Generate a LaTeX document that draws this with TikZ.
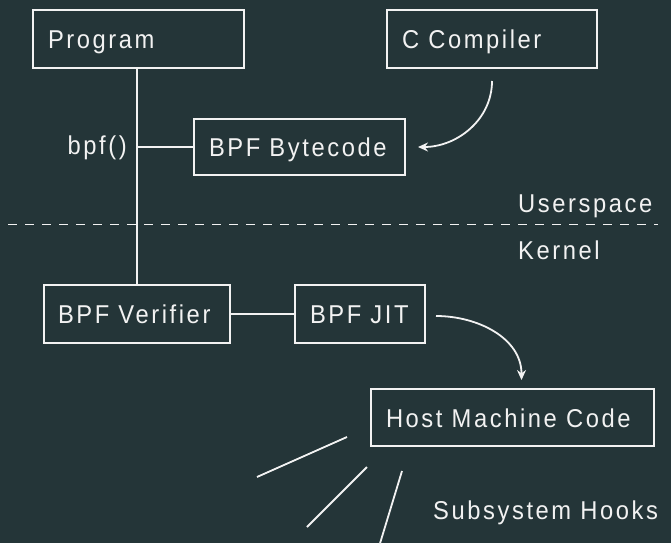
\documentclass[tikz,border=0pt]{standalone}
\usepackage{fontspec}
\newfontfamily\lblfont[FakeStretch=0.92,LetterSpace=10]{Liberation Sans}
\usetikzlibrary{arrows.meta}
\definecolor{bg}{HTML}{243538}
\definecolor{ink}{HTML}{F2F2F2}
% fixed-width, left-aligned box content with a left indent
\newcommand\boxlabel[3][15pt]{\makebox[#2][l]{\hspace*{#1}#3}}
\begin{document}
\begin{tikzpicture}[x=1pt,y=-1pt,
  every node/.style={text=ink,font=\lblfont\fontsize{25.8}{30}\selectfont,
    text height=19pt,text depth=0pt},
  box/.style={draw=ink,line width=2pt,anchor=north west,inner xsep=0pt,
    inner ysep=0pt,minimum height=#1},
  box/.default=58pt,
  label/.style={inner sep=0pt},
  wire/.style={draw=ink,line width=1.8pt},
  flow/.style={wire,-{Stealth[length=10pt,width=9pt]}}]
  % canvas
  \fill[bg] (0,0) rectangle (671,543);
  \useasboundingbox (0,0) rectangle (671,543);

  % userspace components
  \node[box] (prog) at (32,9) {\boxlabel{211pt}{Program}};
  \node[box] (cc) at (386,9) {\boxlabel{210pt}{C Compiler}};
  \node[box=56pt] (bc) at (193,118) {\boxlabel{211pt}{BPF Bytecode}};
  \node[label,anchor=east] (sys) at (127,145) {bpf()};

  % boundary between userspace and kernel
  \coordinate (sepL) at (8,224.5);
  \coordinate (sepR) at (658,224.5);
  \draw[wire,dash pattern=on 9pt off 8pt] (sepL) -- (sepR);
  \node[label,anchor=west] (us) at (518,203) {Userspace};
  \node[label,anchor=west] (kn) at (518,250) {Kernel};

  % kernel components
  \node[box] (ver) at (43,284) {\boxlabel[14pt]{186pt}{BPF Verifier}};
  \node[box] (jit) at (294,284) {\boxlabel{130pt}{BPF JIT}};
  \node[box=57pt] (host) at (370,388) {\boxlabel{283pt}{Host Machine Code}};
  \node[label,anchor=west] (hooks) at (433,510) {Subsystem Hooks};

  % connections
  \draw[wire] (ver.north) -- (ver.north |- prog.south);
  \draw[wire] (bc.west) -- (bc.west -| ver.north);
  \draw[wire] (ver.east) -- (jit.west);
  \draw[flow] ([yshift=-12pt]cc.south) to[out=-90,in=0] ([xshift=12pt]bc.east);
  \draw[flow] ([xshift=10pt,yshift=-2pt]jit.east) to[out=0,in=90]
    ([xshift=9pt,yshift=8pt]host.north);

  % hooks fanning out from the machine code
  \coordinate (h1a) at (347,437); \coordinate (h1b) at (257,477);
  \coordinate (h2a) at (367,467); \coordinate (h2b) at (307,527);
  \coordinate (h3a) at (402,471); \coordinate (h3b) at (378,550);
  \draw[wire] (h1a) -- (h1b);
  \draw[wire] (h2a) -- (h2b);
  \draw[wire] (h3a) -- (h3b);
\end{tikzpicture}
\end{document}
